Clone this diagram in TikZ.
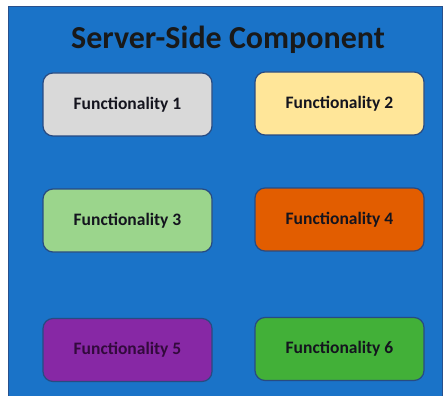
\documentclass[tikz,border=0pt]{standalone}
\usepackage{fontspec}
\setmainfont{Carlito}
\definecolor{bgblue}{RGB}{26,115,200}
\definecolor{bgline}{RGB}{40,80,140}
\definecolor{boxline}{RGB}{40,75,130}
\definecolor{c1}{RGB}{217,217,217}
\definecolor{c2}{RGB}{255,230,153}
\definecolor{c3}{RGB}{155,213,140}
\definecolor{c4}{RGB}{226,93,0}
\definecolor{c5}{RGB}{135,40,165}
\definecolor{c6}{RGB}{66,176,56}
\definecolor{txt}{RGB}{20,20,30}
\begin{document}
\begin{tikzpicture}[x=1pt,y=-1pt,
  func/.style={draw=boxline, line width=1.2pt, rounded corners=10pt,
    minimum width=169pt, minimum height=63pt, inner sep=0pt,
    font=\bfseries\fontsize{17.5}{20}\selectfont, text=txt}]
\useasboundingbox (0,0) rectangle (443,395);
\fill[white] (0,0) rectangle (443,395);
\node[draw=bgline, fill=bgblue, line width=0.8pt, minimum width=434pt, minimum height=392pt, inner sep=0pt, anchor=north west] (panel) at (8,6) {};
\node[font=\bfseries\fontsize{32}{36}\selectfont, text=black!90] (title) at (228,40) {Server-Side Component};
\node[func, fill=c1] (f1) at (127.5,104.5) {Functionality 1};
\node[func, fill=c2] (f2) at (339.5,103.5) {Functionality 2};
\node[func, fill=c3] (f3) at (127.5,220.5) {Functionality 3};
\node[func, fill=c4] (f4) at (339.5,219.5) {Functionality 4};
\node[func, fill=c5, text={rgb,255:red,50;green,10;blue,60}] (f5) at (127.5,350) {Functionality 5};
\node[func, fill=c6] (f6) at (339.5,349) {Functionality 6};
\end{tikzpicture}
\end{document}
